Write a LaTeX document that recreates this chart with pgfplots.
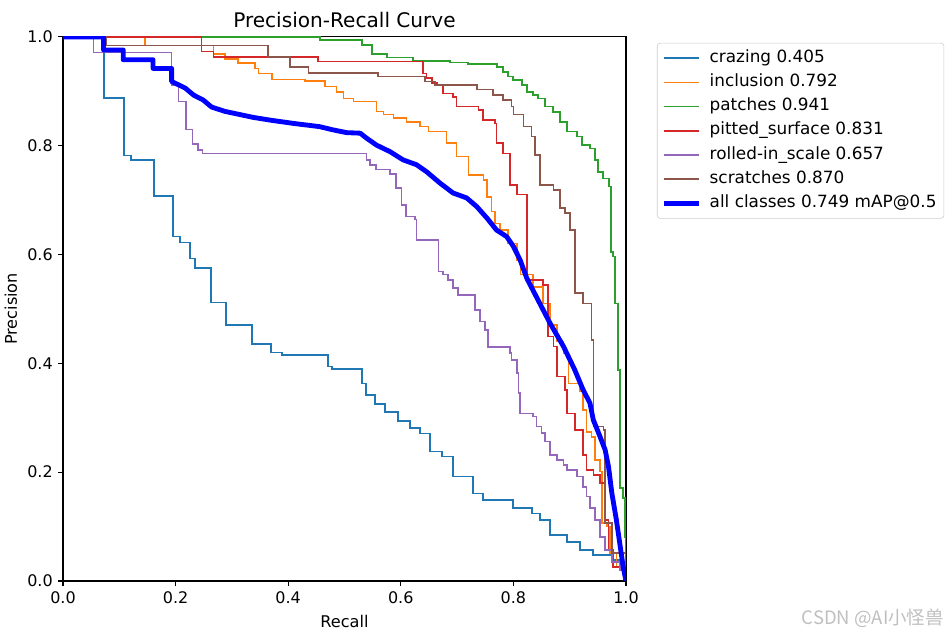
\documentclass[border=0pt]{standalone}
\usepackage{fontspec}
\setmainfont{DejaVu Sans}
\newfontfamily\cjk{Noto Sans CJK SC}
\usepackage{pgfplots}
\pgfplotsset{compat=1.18}
\definecolor{tabblue}{HTML}{1F77B4}
\definecolor{taborange}{HTML}{FF7F0E}
\definecolor{tabgreen}{HTML}{2CA02C}
\definecolor{tabred}{HTML}{D62728}
\definecolor{tabpurple}{HTML}{9467BD}
\definecolor{tabbrown}{HTML}{8C564B}
\begin{document}
\begin{tikzpicture}
\path[use as bounding box] (0,0) rectangle (648pt,433.1pt);
\begin{axis}[
  scale only axis,
  width=384pt, height=371.1pt,
  at={(42.97pt,36.83pt)}, anchor=south west,
  xmin=0, xmax=1, ymin=0, ymax=1,
  xtick={0,0.2,...,1.0}, ytick={0,0.2,...,1.0},
  xtick pos=lower, ytick pos=left,
  tick align=outside, major tick length=3.5pt,
  every tick/.style={black, line width=0.8pt},
  axis line style={line width=0.8pt},
  /pgf/number format/assume math mode=true,
  xticklabel style={/pgf/number format/.cd,fixed,fixed zerofill,precision=1},
  yticklabel style={/pgf/number format/.cd,fixed,fixed zerofill,precision=1},
  tick label style={font=\fontsize{10.9}{12}\selectfont},
  label style={font=\fontsize{11}{12}\selectfont},
  xlabel={Recall}, ylabel={Precision},
  xlabel style={yshift=-1.5pt},
  title={Precision-Recall Curve},
  title style={font=\fontsize{13.7}{15}\selectfont, yshift=-3.5pt},
  legend cell align=left,
  legend image code/.code={\draw[#1] (0pt,0pt) -- (24pt,0pt); \path (27.5pt,0pt);},
  legend style={at={(1.055,0.989)}, anchor=north west, draw=black!20,
    rounded corners=2pt, font=\fontsize{11.5}{12}\selectfont,
    inner xsep=3pt, inner ysep=2pt, row sep=0pt,
    nodes={text height=8.2pt, text depth=2.6pt, inner ysep=2.85pt}},
]
\addplot[const plot, tabblue, line width=1.1pt] coordinates {
(0,1)(0.073,0.888)(0.108,0.782)(0.121,0.774)(0.162,0.708)(0.195,0.633)(0.208,0.622)(0.226,0.593)(0.234,0.575)(0.263,0.512)(0.290,0.471)(0.336,0.436)(0.369,0.420)(0.389,0.415)(0.471,0.394)(0.478,0.390)(0.531,0.363)(0.538,0.342)(0.554,0.325)(0.572,0.31)(0.595,0.294)(0.616,0.281)(0.634,0.271)(0.652,0.238)(0.673,0.229)(0.693,0.192)(0.728,0.161)(0.746,0.149)(0.799,0.134)(0.833,0.124)(0.847,0.112)(0.865,0.085)(0.895,0.072)(0.918,0.057)(0.941,0.048)(0.977,0.039)(0.995,0.020)(1.0,0.0)};
\addlegendentry{crazing 0.405}
\addplot[const plot, taborange, line width=1.1pt] coordinates {
(0,1)(0.146,0.984)(0.267,0.969)(0.288,0.959)(0.311,0.952)(0.341,0.942)(0.347,0.933)(0.371,0.922)(0.430,0.919)(0.465,0.909)(0.486,0.899)(0.498,0.887)(0.516,0.881)(0.557,0.863)(0.569,0.857)(0.587,0.851)(0.610,0.844)(0.634,0.835)(0.649,0.826)(0.681,0.805)(0.699,0.780)(0.720,0.746)(0.747,0.737)(0.753,0.706)(0.761,0.679)(0.767,0.657)(0.776,0.645)(0.790,0.62)(0.806,0.59)(0.813,0.563)(0.835,0.54)(0.853,0.510)(0.865,0.47)(0.878,0.44)(0.889,0.419)(0.898,0.363)(0.918,0.348)(0.924,0.314)(0.930,0.274)(0.939,0.265)(0.945,0.222)(0.954,0.201)(0.957,0.106)(0.966,0.100)(0.972,0.051)(0.983,0.026)(1.0,0)};
\addlegendentry{inclusion 0.792}
\addplot[const plot, tabgreen, line width=1.1pt] coordinates {
(0,1)(0.456,0.994)(0.531,0.985)(0.549,0.968)(0.575,0.962)(0.622,0.956)(0.687,0.953)(0.719,0.950)(0.771,0.945)(0.782,0.936)(0.790,0.927)(0.799,0.921)(0.815,0.912)(0.824,0.899)(0.835,0.893)(0.844,0.887)(0.856,0.872)(0.870,0.862)(0.883,0.844)(0.895,0.826)(0.913,0.817)(0.922,0.801)(0.936,0.795)(0.945,0.774)(0.950,0.752)(0.959,0.740)(0.970,0.725)(0.973,0.605)(0.977,0.596)(0.980,0.510)(0.986,0.388)(0.989,0.171)(0.995,0.153)(0.998,0.08)(1.0,0)};
\addlegendentry{patches 0.941}
\addplot[const plot, tabred, line width=1.1pt] coordinates {
(0,1)(0.246,0.973)(0.267,0.963)(0.453,0.955)(0.639,0.933)(0.646,0.924)(0.655,0.915)(0.664,0.912)(0.675,0.896)(0.693,0.890)(0.699,0.872)(0.738,0.866)(0.746,0.847)(0.767,0.841)(0.770,0.805)(0.782,0.786)(0.794,0.728)(0.806,0.710)(0.824,0.553)(0.853,0.544)(0.862,0.449)(0.871,0.431)(0.877,0.376)(0.892,0.351)(0.895,0.308)(0.909,0.278)(0.924,0.232)(0.930,0.204)(0.942,0.195)(0.954,0.180)(0.963,0.112)(0.969,0.057)(0.977,0.026)(1.0,0)};
\addlegendentry{pitted\_surface 0.831}
\addplot[const plot, tabpurple, line width=1.1pt] coordinates {
(0,1)(0.054,0.971)(0.193,0.912)(0.205,0.881)(0.218,0.830)(0.230,0.803)(0.240,0.792)(0.248,0.786)(0.539,0.774)(0.545,0.765)(0.556,0.756)(0.581,0.748)(0.591,0.722)(0.601,0.691)(0.609,0.670)(0.625,0.664)(0.628,0.627)(0.667,0.569)(0.675,0.563)(0.684,0.553)(0.693,0.538)(0.702,0.526)(0.732,0.498)(0.741,0.477)(0.750,0.461)(0.755,0.430)(0.794,0.419)(0.797,0.406)(0.806,0.382)(0.809,0.345)(0.812,0.308)(0.835,0.302)(0.841,0.284)(0.850,0.272)(0.856,0.256)(0.865,0.232)(0.877,0.222)(0.889,0.213)(0.895,0.204)(0.913,0.192)(0.924,0.173)(0.930,0.155)(0.936,0.134)(0.945,0.112)(0.954,0.081)(0.963,0.057)(0.975,0.035)(0.989,0.020)(1.0,0)};
\addlegendentry{rolled-in\_scale 0.657}
\addplot[const plot, tabbrown, line width=1.1pt] coordinates {
(0,1)(0.076,0.984)(0.364,0.963)(0.403,0.945)(0.436,0.934)(0.560,0.927)(0.643,0.918)(0.661,0.912)(0.735,0.903)(0.764,0.893)(0.782,0.884)(0.797,0.872)(0.800,0.857)(0.818,0.835)(0.832,0.817)(0.838,0.783)(0.847,0.728)(0.871,0.719)(0.883,0.685)(0.892,0.676)(0.901,0.645)(0.909,0.529)(0.924,0.510)(0.939,0.443)(0.942,0.284)(0.960,0.278)(0.963,0.107)(0.975,0.051)(1.0,0)};
\addlegendentry{scratches 0.870}
\addplot[blue, line width=3.3pt, line join=round] coordinates {
(0,1)(0.072,1)(0.072,0.976)(0.107,0.976)(0.107,0.958)(0.160,0.958)(0.160,0.942)(0.193,0.942)(0.193,0.918)(0.199,0.915)(0.217,0.906)(0.232,0.893)(0.249,0.884)(0.264,0.871)(0.288,0.863)(0.338,0.852)(0.368,0.847)(0.409,0.841)(0.456,0.835)(0.480,0.829)(0.504,0.824)(0.528,0.823)(0.539,0.814)(0.557,0.801)(0.581,0.789)(0.604,0.774)(0.628,0.765)(0.646,0.752)(0.670,0.731)(0.693,0.713)(0.717,0.704)(0.735,0.688)(0.753,0.667)(0.770,0.645)(0.788,0.633)(0.800,0.615)(0.812,0.590)(0.824,0.556)(0.847,0.510)(0.865,0.474)(0.889,0.431)(0.909,0.388)(0.924,0.351)(0.936,0.327)(0.942,0.296)(0.954,0.265)(0.963,0.241)(0.969,0.210)(0.975,0.161)(0.983,0.112)(0.989,0.069)(0.995,0.026)(1.0,0.0)};
\addlegendentry{all classes 0.749 mAP@0.5}
\end{axis}
\node[anchor=base east, text=black!25, inner sep=0pt, font=\cjk\fontsize{12.6}{14}\selectfont] at (644pt,7.3pt) {CSDN @AI小怪兽};
\end{tikzpicture}
\end{document}
